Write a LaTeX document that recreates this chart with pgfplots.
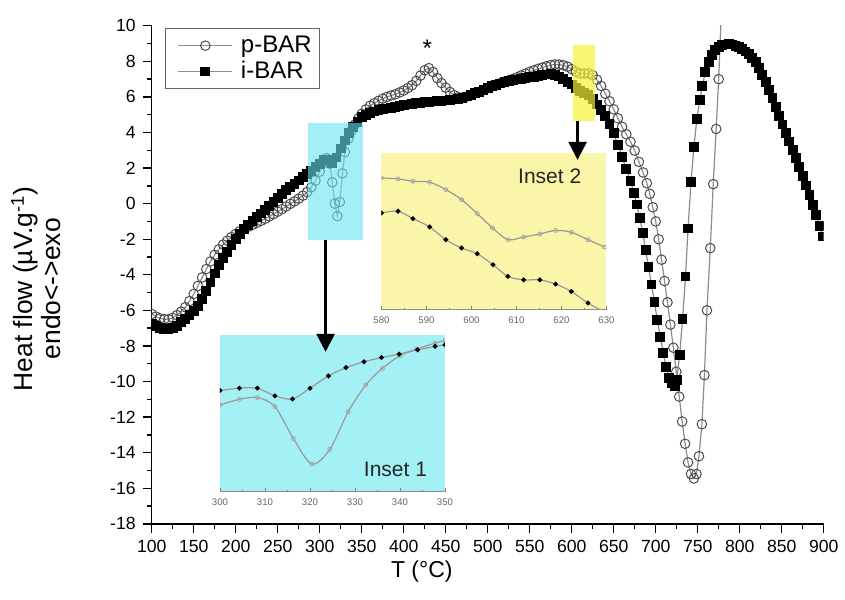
\documentclass[border=0pt]{standalone}
\usepackage{fontspec}
\setmainfont{Liberation Sans}
\setsansfont{Liberation Sans}
\usepackage{pgfplots}
\usepackage{pgfplotstable}
\pgfplotsset{compat=1.18}
\usetikzlibrary{arrows.meta}
\definecolor{cyanbox}{rgb}{0.40,0.90,0.95}
\definecolor{yelbox}{rgb}{0.95,0.95,0.20}
\definecolor{cyaninset}{rgb}{0.64,0.94,0.96}
\definecolor{yelinset}{rgb}{0.98,0.96,0.66}

\pgfplotstableread{
T v
100 -6.20
105 -6.35
110 -6.45
115 -6.50
120 -6.50
125 -6.42
130 -6.27
135 -6.07
140 -5.82
145 -5.48
150 -5.08
155 -4.63
160 -4.15
165 -3.68
170 -3.25
175 -2.88
180 -2.57
185 -2.30
190 -2.08
195 -1.88
200 -1.70
205 -1.55
210 -1.42
215 -1.30
220 -1.19
225 -1.08
230 -0.97
235 -0.85
240 -0.72
245 -0.59
250 -0.45
255 -0.31
260 -0.16
265 -0.01
270 0.13
275 0.28
280 0.45
285 0.65
290 0.92
295 1.30
300 1.80
304 2.30
308 2.55
312 2.25
315 1.20
318 0.00
321 -0.70
324 0.10
327 1.70
330 2.90
334 3.65
338 4.10
342 4.45
346 4.78
350 5.05
355 5.30
360 5.50
365 5.65
370 5.78
375 5.90
380 6.00
385 6.08
390 6.15
395 6.25
400 6.36
405 6.50
410 6.66
415 6.90
420 7.20
425 7.50
430 7.62
435 7.40
440 7.06
445 6.78
450 6.52
455 6.28
460 6.10
465 5.99
470 5.96
475 6.02
480 6.10
485 6.20
490 6.29
495 6.39
500 6.49
505 6.59
510 6.69
515 6.78
520 6.86
525 6.93
530 7.01
535 7.11
540 7.21
545 7.31
550 7.41
555 7.50
560 7.58
565 7.65
570 7.72
575 7.79
580 7.83
585 7.82
590 7.78
595 7.70
600 7.56
605 7.42
610 7.32
615 7.32
620 7.32
625 7.22
630 6.97
635 6.62
640 6.18
645 5.76
650 5.30
655 4.80
660 4.32
665 3.90
670 3.48
675 2.98
680 2.35
685 1.75
689.5 1.15
693.0 0.55
696.5 -0.20
700.0 -1.00
703.5 -2.00
707.0 -3.15
710.5 -4.35
714.0 -5.55
717.5 -6.80
721.0 -8.10
724.5 -9.45
728.0 -10.85
731.5 -12.25
735.0 -13.50
738.5 -14.55
742.0 -15.20
745.5 -15.45
748.5 -15.20
751.5 -14.20
755.0 -12.40
758.0 -9.64
761.0 -6.00
765.0 -2.50
768.5 1.10
772.0 4.20
775.0 7.00
778.0 10.60
}\pbar

\pgfplotstableread{
T v
100 -6.75
105 -6.90
110 -7.00
115 -7.05
120 -7.06
125 -7.00
130 -6.86
135 -6.67
140 -6.47
145 -6.26
150 -6.05
155 -5.76
160 -5.37
165 -4.92
170 -4.43
175 -3.93
180 -3.47
185 -3.06
190 -2.70
195 -2.34
200 -2.00
205 -1.70
210 -1.44
215 -1.20
220 -0.98
225 -0.77
230 -0.55
235 -0.34
240 -0.12
245 0.10
250 0.33
255 0.55
260 0.75
265 0.95
270 1.12
275 1.30
280 1.48
285 1.66
290 1.85
295 2.05
300 2.25
305 2.45
310 2.45
315 2.30
320 2.60
325 3.10
330 3.55
335 3.95
340 4.30
345 4.60
350 4.85
355 5.00
360 5.10
365 5.18
370 5.25
375 5.30
380 5.35
385 5.40
390 5.45
395 5.50
400 5.55
405 5.58
410 5.62
415 5.65
420 5.68
425 5.70
430 5.72
435 5.74
440 5.76
445 5.78
450 5.80
455 5.83
460 5.86
465 5.90
470 5.95
475 6.02
480 6.10
485 6.20
490 6.30
495 6.40
500 6.50
505 6.60
510 6.68
515 6.75
520 6.82
525 6.88
530 6.93
535 6.98
540 7.02
545 7.06
550 7.10
555 7.14
560 7.18
565 7.22
570 7.26
575 7.28
580 7.25
585 7.15
590 7.00
595 6.85
600 6.70
605 6.50
610 6.35
615 6.22
620 6.10
625 5.88
630 5.58
635 5.28
640 4.95
645 4.50
650 3.95
655 3.30
660 2.62
665 1.95
670 1.28
674 0.60
677.5 -0.05
681 -0.80
684.5 -1.65
688 -2.60
691.5 -3.55
695 -4.55
698.5 -5.55
702 -6.55
705.5 -7.50
709 -8.40
712.5 -9.20
716 -9.80
719.5 -10.10
723 -10.25
725 -9.90
728.5 -8.50
732 -6.50
735.5 -4.10
738.5 -1.40
742 1.20
745.5 3.20
749 4.75
752.5 5.85
755.5 6.60
759 7.40
763 7.95
767 8.35
771 8.62
775 8.80
779 8.90
783 8.95
787 8.97
791 8.95
795 8.88
799 8.80
803 8.68
807 8.55
811 8.40
815 8.20
819 7.95
823 7.62
827 7.25
831 6.85
835 6.40
839 5.95
843 5.45
847 4.95
851 4.45
855 3.98
859 3.50
863 3.02
867 2.55
871 2.05
875 1.55
879 1.02
883 0.48
887 -0.08
891 -0.66
895 -1.25
899 -1.85
}\ibar

\begin{document}
\begin{tikzpicture}
\useasboundingbox (-75.85pt,-37.6pt) rectangle (346.65pt,261.9pt);
\begin{axis}[name=main, at={(0pt,0pt)}, anchor=south west,
  scale only axis, width=336pt, height=249pt,
  xmin=100, xmax=900, ymin=-18, ymax=10,
  axis x line*=bottom, axis y line*=left,
  axis line style={line width=0.8pt},
  xtick={100,150,...,900}, ytick={-18,-16,...,10},
  minor x tick num=1, minor y tick num=1,
  tick align=outside, major tick length=4.5pt, minor tick length=2.5pt,
  every tick/.style={black, line width=0.7pt},
  /pgf/number format/assume math mode=true,
  /pgf/number format/set thousands separator={},
  tick label style={font=\fontsize{8.8}{10}\selectfont},
  xlabel={T (°C)},
  xlabel style={font=\fontsize{11.5}{13}\selectfont, at={(axis description cs:0.402,-0.095)}, anchor=center},
  ylabel={Heat flow (µV.g\textsuperscript{-1})\\endo<->exo},
  ylabel style={font=\fontsize{13.2}{14}\selectfont, align=center, at={(axis description cs:-0.172,0.472)}, anchor=center},
  clip marker paths=true,
  legend style={at={(rel axis cs:0.02,0.995)}, anchor=north west, draw=black!60, line width=0.6pt,
    font=\fontsize{12}{13}\selectfont, inner xsep=2pt, inner ysep=1.5pt, row sep=-1pt, cells={anchor=west}},
  legend image code/.code={\path (0pt,0pt) (33pt,0pt);
    \draw[mark repeat=2,mark phase=2,#1] plot coordinates {(4pt,0pt) (17.5pt,0pt) (31pt,0pt)};},
]
\addplot[draw=black!45, line width=0.6pt, mark=o, mark size=2.4pt,
  mark options={draw=black!70, line width=0.5pt, solid}] table[x=T,y=v]{\pbar};
\addlegendentry{p-BAR}
\addplot[draw=black!45, line width=0.6pt, mark=square*, mark size=2.15pt,
  mark options={fill=black, draw=black, solid}] table[x=T,y=v]{\ibar};
\addlegendentry{i-BAR}
\fill[cyanbox, opacity=0.6] (axis cs:286.4,-2.04) rectangle (axis cs:351.9,4.53);
\fill[yelbox, opacity=0.7] (axis cs:602,4.62) rectangle (axis cs:628,8.93);
\node[font=\fontsize{12}{12}\selectfont] at (axis cs:428,8.75) {*};
\coordinate (i1) at (axis cs:181.3,-16.2);
\coordinate (i2) at (axis cs:373.5,-5.97);
\coordinate (a1s) at (axis cs:307,-2.04);
\coordinate (a1e) at (axis cs:307,-8.33);
\coordinate (a2s) at (axis cs:607,4.62);
\coordinate (a2e) at (axis cs:607,2.46);
\end{axis}

\pgfplotsset{insetstyle/.style={anchor=south west, scale only axis, width=112.5pt, height=78.5pt,
  ymin=0, ymax=100, axis x line*=bottom, axis y line=none,
  axis line style={black!45, line width=0.5pt},
  minor x tick num=1, tick align=inside, major tick length=2pt, minor tick length=1pt,
  every tick/.style={black!50, line width=0.4pt},
  /pgf/number format/assume math mode=true,
  /pgf/number format/set thousands separator={},
  tick label style={font=\fontsize{4.8}{5}\selectfont, text=black!60},
  clip marker paths=true}}

\begin{axis}[insetstyle, at={(i1)}, xmin=300, xmax=350, xtick={300,310,...,350},
  axis background/.style={fill=cyaninset}]
\addplot[smooth, draw=black!40, line width=0.6pt, mark=o, mark size=1pt,
  mark options={draw=black!35, line width=0.4pt}] coordinates {
(300,55.3) (304.3,58.9) (308.3,60) (312.2,54.3) (316.3,34) (320.4,17.7) (324.4,27)
(328.5,51) (332.4,68) (336.1,78.7) (340,86.6) (343.7,90.9) (347.8,94.7) (350,96.4)};
\addplot[smooth, draw=black!40, line width=0.6pt, mark=*, mark size=0.9pt,
  mark options={fill=black, draw=black}] coordinates {
(300,64.5) (304.3,66) (308.3,66) (312.2,61.1) (316.1,59.1) (320,66) (324.1,73.8)
(328,79.1) (332,82.8) (335.9,85.5) (339.8,87.7) (343.9,90.4) (347.8,92.6) (350,93.6)};
\node[font=\fontsize{10.5}{12}\selectfont, text=black!85] at (axis cs:339,14) {Inset 1};
\end{axis}

\begin{axis}[insetstyle, at={(i2)}, xmin=580, xmax=630, xtick={580,590,...,630},
  axis background/.style={fill=yelinset}]
\addplot[smooth, draw=black!40, line width=0.6pt, mark=o, mark size=1pt,
  mark options={draw=black!35, line width=0.4pt}] coordinates {
(580,84) (583.7,83.4) (587,81.9) (590.7,81.3) (594.3,76.6) (597.8,70.2) (601.3,61.3)
(604.7,52.1) (608.1,44.7) (611.6,46.4) (615.2,48.3) (618.7,50.6) (622.2,49.4) (625.9,44.7) (629.6,40)};
\addplot[smooth, draw=black!40, line width=0.6pt, mark=*, mark size=0.9pt,
  mark options={fill=black, draw=black}] coordinates {
(580,61.7) (583.7,62.8) (587,58.1) (590.7,52.8) (594.3,44.7) (597.8,39.4) (601.3,35.7)
(604.8,28.7) (608.1,21.3) (611.6,19.1) (615.2,19.1) (618.7,16.4) (622.2,11.7) (625.9,4.3) (630,-2)};
\node[font=\fontsize{10.5}{12}\selectfont, text=black!85] at (axis cs:617.4,85) {Inset 2};
\end{axis}

\draw[line width=1.3pt, -{Triangle[length=9pt,width=9pt]}] (a1s) -- (a1e);
\draw[line width=1.3pt, -{Triangle[length=9pt,width=9pt]}] (a2s) -- (a2e);
\end{tikzpicture}
\end{document}
